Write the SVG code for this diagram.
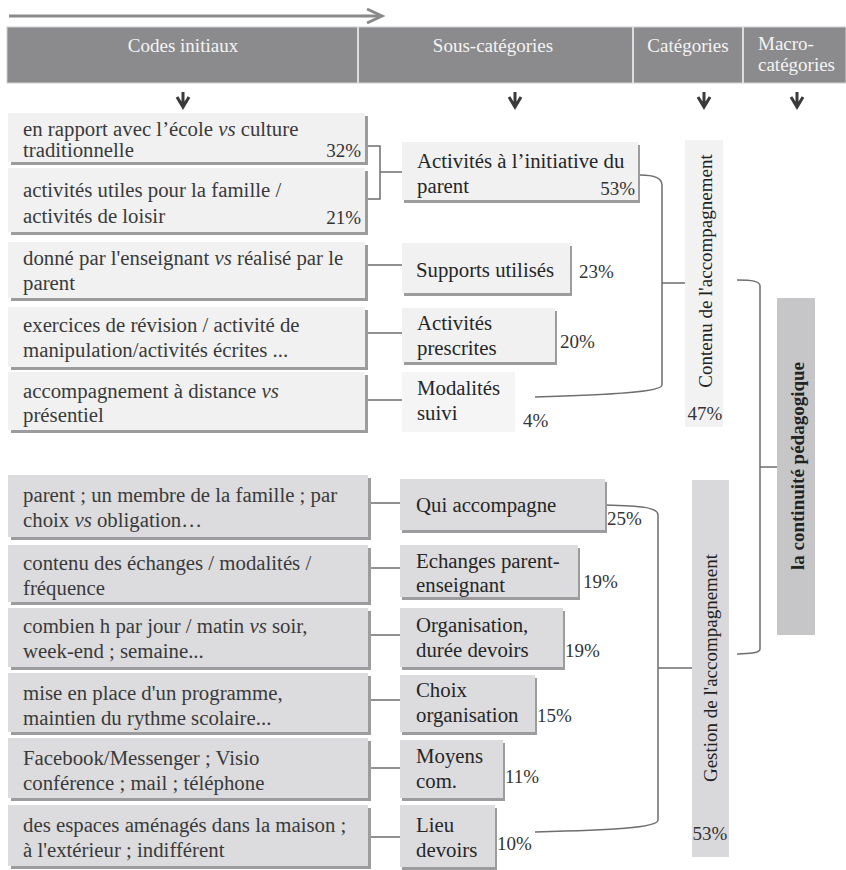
<svg xmlns="http://www.w3.org/2000/svg" width="846" height="870" viewBox="0 0 846 870">
<style>
text{font-family:"Liberation Serif","Times New Roman",serif}
.hd{font-size:19px;fill:#f4f4f4}
.t{font-size:20.8px;fill:#3a3a3a}
.s{font-size:20.8px;fill:#262626}
.p{font-size:19px;fill:#333}
.v{font-size:19px;fill:#222}
.sh{fill:#9c9c9e}
.lt{fill:#f1f1f1}
.dk{fill:#dcdcde}
.cn{fill:none;stroke:#6e6e6e;stroke-width:1.5}
.da{fill:none;stroke:#3a3a3a;stroke-width:3}
</style>
<rect width="846" height="870" fill="#ffffff"/>
<g id="header">
<line x1="9" y1="16" x2="380" y2="16" stroke="#8a8a8c" stroke-width="3"/>
<polyline points="367,9 382,16 367,23" fill="none" stroke="#8a8a8c" stroke-width="3"/>
<rect x="7" y="27" width="839" height="56" fill="#8b8b8d" stroke="#d0d0d0" stroke-width="1"/>
<line x1="358" y1="27" x2="358" y2="83" stroke="#dcdcdc" stroke-width="2"/>
<line x1="633" y1="27" x2="633" y2="83" stroke="#dcdcdc" stroke-width="2"/>
<line x1="743" y1="27" x2="743" y2="83" stroke="#dcdcdc" stroke-width="2"/>
<text class="hd" x="183" y="52" text-anchor="middle">Codes initiaux</text>
<text class="hd" x="493" y="52" text-anchor="middle">Sous-catégories</text>
<text class="hd" x="688" y="52" text-anchor="middle">Catégories</text>
<text class="hd" x="758" y="50">Macro-</text>
<text class="hd" x="758" y="71">catégories</text>
<path class="da" d="M183,92 V106 M177,97 L183,107 L189,97"/>
<path class="da" d="M515,92 V106 M509,97 L515,107 L521,97"/>
<path class="da" d="M704,92 V106 M698,97 L704,107 L710,97"/>
<path class="da" d="M797,92 V106 M791,97 L797,107 L803,97"/>
</g>
<g id="connectors">
<path class="cn" d="M365,146 H380 V199 H368 M380,172 H402"/>
<path class="cn" d="M365,265 H402 M365,333 H402 M365,400 H402"/>
<path class="cn" d="M368,503 H400 M368,568 H400 M368,635 H400 M368,700 H400 M368,768 H400 M368,837 H400"/>
<path class="cn" d="M640,175 C653,175 662,177 662,185 V385 C662,392 610,395 535,397 M662,283 H685"/>
<path class="cn" d="M605,505 C640,506 658,507 658,515 V820 C658,828 610,830 535,832 M658,668 H692"/>
<path class="cn" d="M737,280 C752,280 760,281 760,286 V649 C760,653 752,653 737,654 M760,467 H777"/>
</g>
<g id="code1"><rect class="sh" x="11" y="116" width="357" height="49"/><rect class="lt" x="8" y="113" width="357" height="49"/>
<text class="t" x="23" y="136">en rapport avec l’école <tspan font-style="italic">vs</tspan> culture</text>
<text class="t" x="23" y="157">traditionnelle</text><text class="p" x="361" y="157" text-anchor="end">32%</text></g>
<g id="code2"><rect class="sh" x="11" y="171" width="357" height="64"/><rect class="lt" x="8" y="168" width="357" height="64"/>
<text class="t" x="23" y="197">activités utiles pour la famille /</text>
<text class="t" x="23" y="223">activités de loisir</text><text class="p" x="361" y="224" text-anchor="end">21%</text></g>
<g id="code3"><rect class="sh" x="11" y="245" width="357" height="56"/><rect class="lt" x="8" y="242" width="357" height="56"/>
<text class="t" x="23" y="265">donné par l'enseignant <tspan font-style="italic">vs</tspan> réalisé par le</text>
<text class="t" x="23" y="290">parent</text></g>
<g id="code4"><rect class="sh" x="11" y="310" width="357" height="60"/><rect class="lt" x="8" y="307" width="357" height="60"/>
<text class="t" x="23" y="332">exercices de révision / activité de</text>
<text class="t" x="23" y="357">manipulation/activités écrites ...</text></g>
<g id="code5"><rect class="sh" x="11" y="375" width="357" height="58"/><rect class="lt" x="8" y="372" width="357" height="58"/>
<text class="t" x="23" y="398">accompagnement à distance <tspan font-style="italic">vs</tspan></text>
<text class="t" x="23" y="422">présentiel</text></g>
<g id="code6"><rect class="sh" x="11" y="478" width="360" height="62"/><rect class="dk" x="8" y="475" width="360" height="62"/>
<text class="t" x="23" y="502">parent ; un membre de la famille ; par</text>
<text class="t" x="23" y="527">choix <tspan font-style="italic">vs</tspan> obligation…</text></g>
<g id="code7"><rect class="sh" x="11" y="548" width="360" height="57"/><rect class="dk" x="8" y="545" width="360" height="57"/>
<text class="t" x="23" y="570">contenu des échanges / modalités /</text>
<text class="t" x="23" y="595">fréquence</text></g>
<g id="code8"><rect class="sh" x="11" y="611" width="360" height="59"/><rect class="dk" x="8" y="608" width="360" height="59"/>
<text class="t" x="23" y="633">combien h par jour / matin <tspan font-style="italic">vs</tspan> soir,</text>
<text class="t" x="23" y="658">week-end ; semaine...</text></g>
<g id="code9"><rect class="sh" x="11" y="676" width="360" height="59"/><rect class="dk" x="8" y="673" width="360" height="59"/>
<text class="t" x="23" y="700">mise en place d'un programme,</text>
<text class="t" x="23" y="725">maintien du rythme scolaire...</text></g>
<g id="code10"><rect class="sh" x="11" y="741" width="360" height="60"/><rect class="dk" x="8" y="738" width="360" height="60"/>
<text class="t" x="23" y="765">Facebook/Messenger ; Visio</text>
<text class="t" x="23" y="790">conférence ; mail ; téléphone</text></g>
<g id="code11"><rect class="sh" x="11" y="808" width="360" height="61"/><rect class="dk" x="8" y="805" width="360" height="61"/>
<text class="t" x="23" y="832">des espaces aménagés dans la maison ;</text>
<text class="t" x="23" y="857">à l'extérieur ; indifférent</text></g>
<g id="sub1"><rect class="sh" x="404" y="145" width="236" height="58"/><rect class="lt" x="402" y="142" width="236" height="58"/>
<text class="s" x="417" y="168">Activités à l’initiative du</text>
<text class="s" x="417" y="193">parent</text><text class="p" x="635" y="195" text-anchor="end">53%</text></g>
<g id="sub2"><rect class="sh" x="404" y="246" width="168" height="50"/><rect class="lt" x="402" y="243" width="168" height="50"/>
<text class="s" x="416" y="277">Supports utilisés</text><text class="p" x="579" y="278">23%</text></g>
<g id="sub3"><rect class="sh" x="404" y="311" width="153" height="54"/><rect class="lt" x="402" y="308" width="153" height="54"/>
<text class="s" x="417" y="330">Activités</text>
<text class="s" x="417" y="355">prescrites</text><text class="p" x="560" y="348">20%</text></g>
<g id="sub4"><rect fill="#f5f5f5" x="402" y="372" width="113" height="60"/>
<text class="s" x="417" y="395">Modalités</text>
<text class="s" x="417" y="420">suivi</text><text class="p" x="523" y="427">4%</text></g>
<g id="sub5"><rect class="sh" x="402" y="482" width="205" height="51"/><rect class="dk" x="400" y="479" width="205" height="51"/>
<text class="s" x="416" y="512">Qui accompagne</text><text class="p" x="607" y="525">25%</text></g>
<g id="sub6"><rect class="sh" x="402" y="548" width="178" height="52"/><rect class="dk" x="400" y="545" width="178" height="52"/>
<text class="s" x="416" y="568">Echanges parent-</text>
<text class="s" x="416" y="592">enseignant</text><text class="p" x="583" y="588">19%</text></g>
<g id="sub7"><rect class="sh" x="402" y="611" width="163" height="59"/><rect class="dk" x="400" y="608" width="163" height="59"/>
<text class="s" x="416" y="632">Organisation,</text>
<text class="s" x="416" y="657">durée devoirs</text><text class="p" x="565" y="657">19%</text></g>
<g id="sub8"><rect class="sh" x="402" y="678" width="135" height="57"/><rect class="dk" x="400" y="675" width="135" height="57"/>
<text class="s" x="416" y="697">Choix</text>
<text class="s" x="416" y="722">organisation</text><text class="p" x="537" y="722">15%</text></g>
<g id="sub9"><rect class="sh" x="402" y="743" width="103" height="58"/><rect class="dk" x="400" y="740" width="103" height="58"/>
<text class="s" x="416" y="763">Moyens</text>
<text class="s" x="416" y="788">com.</text><text class="p" x="505" y="783">11%</text></g>
<g id="sub10"><rect class="sh" x="402" y="808" width="95" height="62"/><rect class="dk" x="400" y="805" width="95" height="62"/>
<text class="s" x="416" y="832">Lieu</text>
<text class="s" x="416" y="857">devoirs</text><text class="p" x="497" y="850">10%</text></g>
<g id="cat1"><rect fill="#f2f2f2" x="685" y="140" width="38" height="287"/>
<text class="v" transform="translate(712,271) rotate(-90)" text-anchor="middle">Contenu de l'accompagnement</text>
<text class="p" x="705" y="420" text-anchor="middle">47%</text></g>
<g id="cat2"><rect fill="#d9d9db" x="692" y="480" width="37" height="377"/>
<text class="v" transform="translate(717,668) rotate(-90)" text-anchor="middle">Gestion de l'accompagnement</text>
<text class="p" x="710" y="840" text-anchor="middle">53%</text></g>
<g id="macro"><rect fill="#c6c6c8" x="777" y="298" width="38" height="337"/>
<text class="v" font-weight="bold" transform="translate(804,466) rotate(-90)" text-anchor="middle">la continuité pédagogique</text></g>
</svg>
